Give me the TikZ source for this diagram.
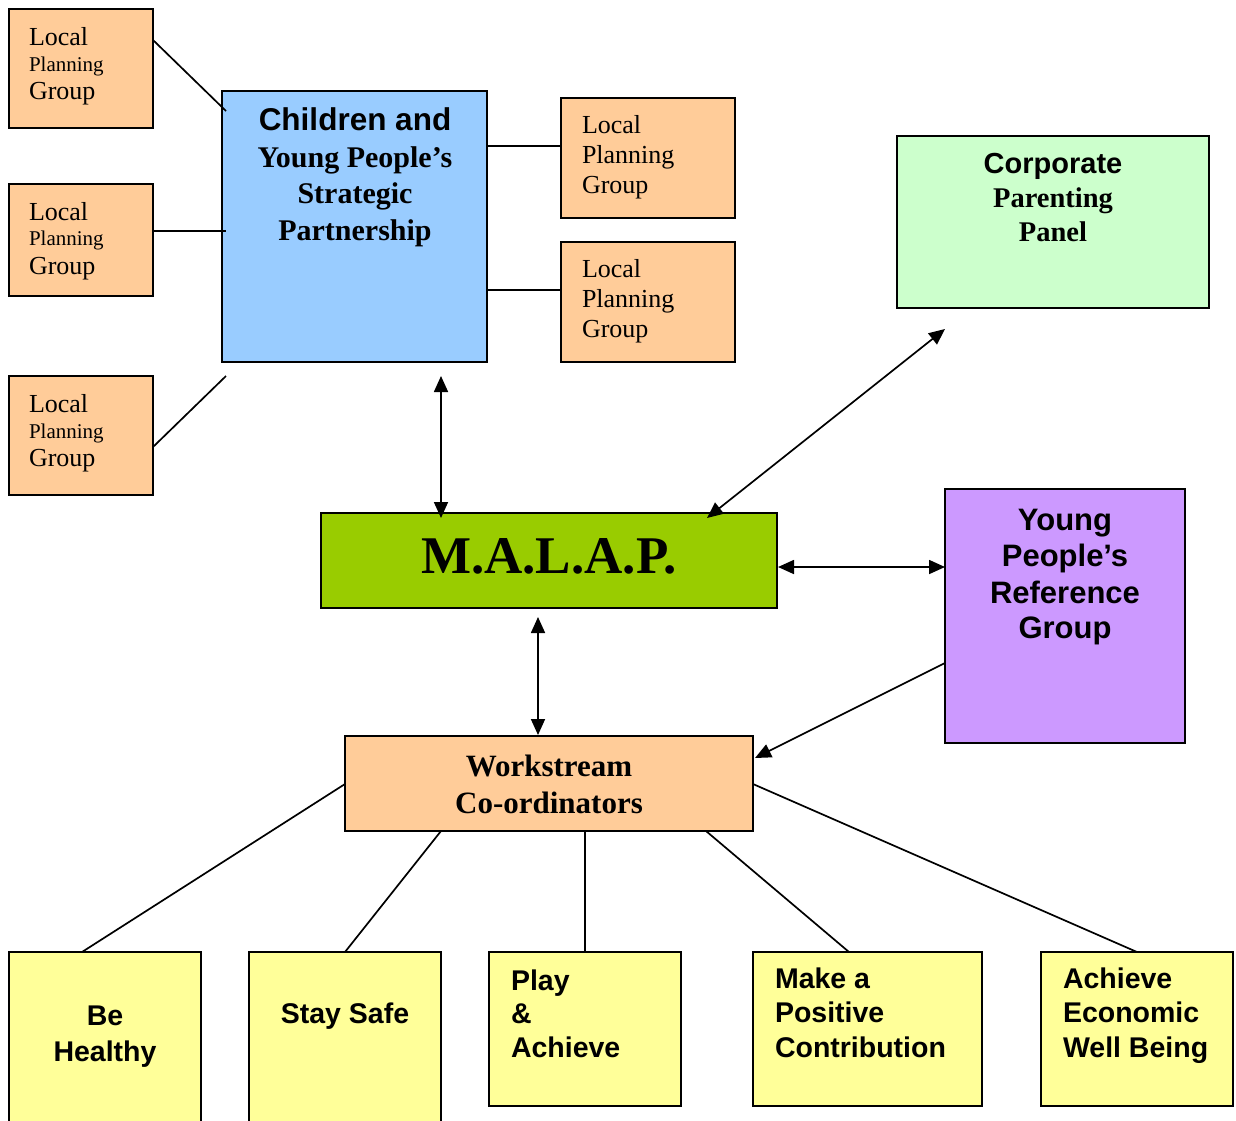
\documentclass[tikz,border=0pt]{standalone}
\usepackage{fontspec}
\setmainfont{Liberation Serif}
\setsansfont{Liberation Sans}
\usetikzlibrary{arrows.meta,calc}
\definecolor{lpgc}{HTML}{FFCC99}
\definecolor{cypc}{HTML}{99CCFF}
\definecolor{corpc}{HTML}{CCFFCC}
\definecolor{malapc}{HTML}{99CC00}
\definecolor{yprgc}{HTML}{CC99FF}
\definecolor{yelc}{HTML}{FFFF99}
\begin{document}
\begin{tikzpicture}[x=1pt,y=-1pt,
  box/.style={draw=black,line width=2pt,anchor=north west,inner sep=0pt,outer sep=0pt},
  conn/.style={line width=1.7pt},
  dbl/.style={line width=1.7pt,{Triangle[length=16pt,width=14pt]}-{Triangle[length=16pt,width=14pt]}},
  one/.style={line width=1.7pt,-{Triangle[length=16pt,width=14pt]}},
  tx/.style={inner sep=0pt,outer sep=0pt},
  lbig/.style={tx,anchor=base west,font=\fontsize{26}{30}\selectfont},
  lsmall/.style={tx,anchor=base west,font=\fontsize{21}{25}\selectfont},
  sbold/.style={tx,anchor=base,font=\fontsize{#1}{#1}\selectfont\sffamily\bfseries},
  rbold/.style={tx,anchor=base,font=\fontsize{#1}{#1}\selectfont\bfseries},
  ysans/.style={tx,font=\fontsize{28.5}{34}\selectfont\sffamily\bfseries}
]
\useasboundingbox (0,0) rectangle (1236,1120);
\clip (0,0) rectangle (1236,1120);

% boxes
\node[box,fill=lpgc,minimum width=144pt,minimum height=119pt] (lpg1) at (9,9) {};
\node[box,fill=lpgc,minimum width=144pt,minimum height=112pt] (lpg2) at (9,184) {};
\node[box,fill=lpgc,minimum width=144pt,minimum height=119pt] (lpg3) at (9,376) {};
\node[box,fill=cypc,minimum width=265pt,minimum height=271pt] (cyp) at (222,91) {};
\node[box,fill=lpgc,minimum width=174pt,minimum height=120pt] (lpg4) at (561,98) {};
\node[box,fill=lpgc,minimum width=174pt,minimum height=120pt] (lpg5) at (561,242) {};
\node[box,fill=corpc,minimum width=312pt,minimum height=172pt] (corp) at (897,136) {};
\node[box,fill=malapc,minimum width=456pt,minimum height=95pt] (malap) at (321,513) {};
\node[box,fill=yprgc,minimum width=240pt,minimum height=254pt] (yprg) at (945,489) {};
\node[box,fill=lpgc,minimum width=408pt,minimum height=95pt] (work) at (345,736) {};
\node[box,fill=yelc,minimum width=192pt,minimum height=190pt] (bh) at (9,952) {};
\node[box,fill=yelc,minimum width=192pt,minimum height=190pt] (ss) at (249,952) {};
\node[box,fill=yelc,minimum width=192pt,minimum height=154pt] (pa) at (489,952) {};
\node[box,fill=yelc,minimum width=229pt,minimum height=154pt] (mp) at (753,952) {};
\node[box,fill=yelc,minimum width=192pt,minimum height=154pt] (ae) at (1041,952) {};

% texts: local planning groups
\node[lbig] (l1a) at (29,45) {Local};
\node[lsmall] (l1b) at (29,71) {Planning};
\node[lbig] (l1c) at (29,99) {Group};
\node[lbig] (l2a) at (29,220) {Local};
\node[lsmall] (l2b) at (29,245) {Planning};
\node[lbig] (l2c) at (29,274) {Group};
\node[lbig] (l3a) at (29,412) {Local};
\node[lsmall] (l3b) at (29,438) {Planning};
\node[lbig] (l3c) at (29,466) {Group};
\node[lbig] (l4a) at (582,133) {Local};
\node[lbig] (l4b) at (582,163) {Planning};
\node[lbig] (l4c) at (582,193) {Group};
\node[lbig] (l5a) at (582,277) {Local};
\node[lbig] (l5b) at (582,307) {Planning};
\node[lbig] (l5c) at (582,337) {Group};

% CYP
\node[sbold=31.5] (c1) at (355,130) {Children and};
\node[rbold=30] (c2) at (355,167) {Young People’s};
\node[rbold=30] (c3) at (355,203) {Strategic};
\node[rbold=30] (c4) at (355,240) {Partnership};

% Corporate
\node[sbold=29] (p1) at (1053,173) {Corporate};
\node[rbold=28.5] (p2) at (1053,207) {Parenting};
\node[rbold=28.5] (p3) at (1053,241) {Panel};

% MALAP
\node[rbold=53] (m1) at (549,573) {M.A.L.A.P.};

% YPRG
\node[sbold=31] (y1) at (1065,530) {Young};
\node[sbold=31] (y2) at (1065,566) {People’s};
\node[sbold=31] (y3) at (1065,603) {Reference};
\node[sbold=31] (y4) at (1065,638) {Group};

% Workstream
\node[rbold=31] (w1) at (549,776) {Workstream};
\node[rbold=31] (w2) at (549,813) {Co-ordinators};

% yellow
\node[ysans,anchor=base] (b1) at (105,1025) {Be};
\node[ysans,anchor=base] (b2) at (105,1061) {Healthy};
\node[ysans,anchor=base] (s1) at (345,1023) {Stay Safe};
\node[ysans,anchor=base west] (a1) at (511,990) {Play};
\node[ysans,anchor=base west] (a2) at (511,1023) {\&};
\node[ysans,anchor=base west] (a3) at (511,1057) {Achieve};
\node[ysans,anchor=base west] (k1) at (775,988) {Make a};
\node[ysans,anchor=base west] (k2) at (775,1022) {Positive};
\node[ysans,anchor=base west] (k3) at (775,1057) {Contribution};
\node[ysans,anchor=base west] (e1) at (1063,988) {Achieve};
\node[ysans,anchor=base west] (e2) at (1063,1022) {Economic};
\node[ysans,anchor=base west] (e3) at (1063,1057) {Well Being};

% connectors
\draw[conn] ($(lpg1.north east)+(0,31)$) -- ($(cyp.north west)+(4,20)$);
\draw[conn] ($(lpg2.north east)+(0,47)$) -- ($(cyp.north west)+(4,140)$);
\draw[conn] ($(lpg3.north east)+(0,71)$) -- ($(cyp.south west)+(4,14)$);
\draw[conn] ($(cyp.north east)+(0,55)$) -- ($(lpg4.north west)+(0,48)$);
\draw[conn] ($(cyp.north east)+(0,199)$) -- ($(lpg5.north west)+(0,48)$);

\draw[dbl] ($(cyp.south west)+(219,14)$) -- ($(malap.north west)+(120,5)$);
\draw[dbl] ($(corp.south west)+(48,21)$) -- ($(malap.north east)+(-70,5)$);
\draw[dbl] ($(malap.north east)+(1,54)$) -- ($(yprg.north west)+(0,78)$);
\draw[dbl] ($(malap.south west)+(217,9)$) -- ($(work.north west)+(193,-1)$);
\draw[one] ($(yprg.north west)+(0,174)$) -- ($(work.north east)+(2,22)$);

\draw[conn] ($(work.north west)+(0,48)$) -- ($(bh.north west)+(73,0)$);
\draw[conn] ($(work.south west)+(96,0)$) -- ($(ss.north west)+(96,0)$);
\draw[conn] ($(work.south west)+(240,0)$) -- ($(pa.north west)+(96,0)$);
\draw[conn] ($(work.south west)+(361,0)$) -- ($(mp.north west)+(96,0)$);
\draw[conn] ($(work.north east)+(0,48)$) -- ($(ae.north west)+(96,0)$);
\end{tikzpicture}
\end{document}
